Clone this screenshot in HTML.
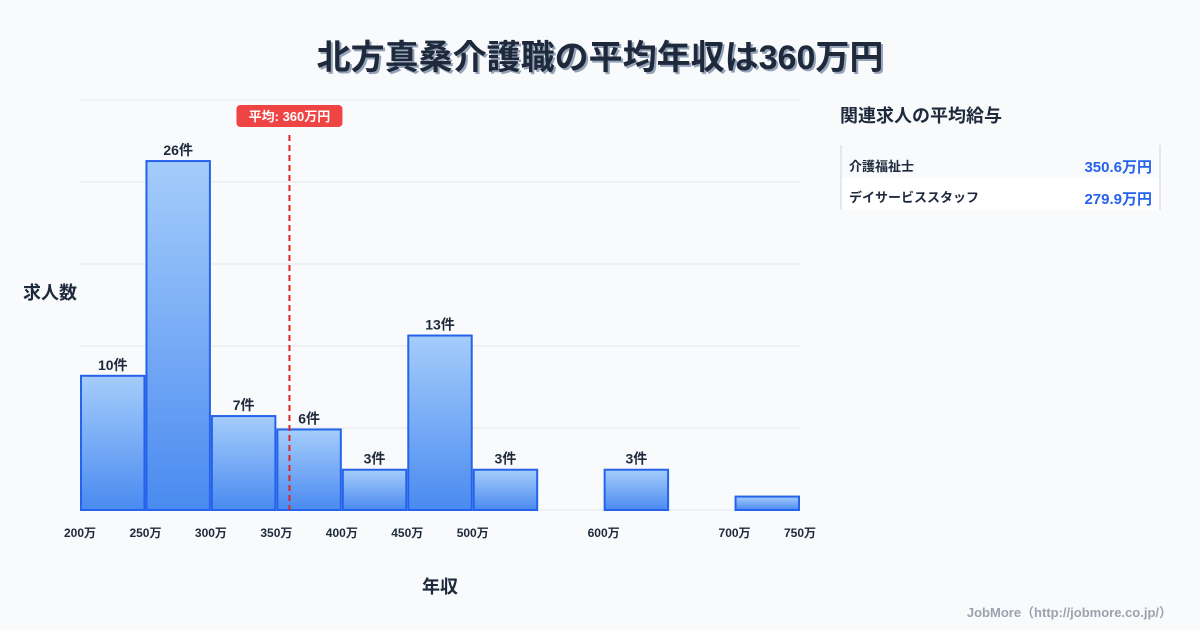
<!DOCTYPE html>
<html><head><meta charset="utf-8"><style>
body{margin:0;width:1200px;height:630px;background:#f8fafc;font-family:"Liberation Sans","Noto Sans CJK JP",sans-serif;overflow:hidden;position:relative}
.t{position:absolute;left:0;width:1200px;top:30px;text-align:center;font-size:34px;font-weight:bold;color:#1e293b;text-shadow:2px 2px 0 #94a3b8}
</style></head><body>
<div class="t">北方真桑介護職の平均年収は360万円</div>
<svg width="1200" height="630" style="position:absolute;left:0;top:0">
<defs><linearGradient id="g" x1="0" y1="0" x2="0" y2="1"><stop offset="0" stop-color="#a5cdfb"/><stop offset="1" stop-color="#4a8af0"/></linearGradient></defs>
<g id="grid"></g><g id="bars"></g><g id="xt"></g>
<text x="50" y="299" text-anchor="middle" font-size="18" font-weight="bold" fill="#1e293b">求人数</text>
<text x="440" y="593" text-anchor="middle" font-size="18" font-weight="bold" fill="#1e293b">年収</text>
<g id="mean"></g>
<text x="840" y="122" font-size="18" font-weight="bold" fill="#1e293b">関連求人の平均給与</text>
<line x1="841" y1="145" x2="841" y2="210" stroke="#cbd5e1"/><line x1="1160" y1="145" x2="1160" y2="210" stroke="#cbd5e1"/>
<rect x="842" y="178" width="317" height="32" fill="#fff"/>
<text x="849" y="171" font-size="13" font-weight="bold" fill="#1e293b">介護福祉士</text>
<text x="1152" y="172" text-anchor="end" font-size="15" font-weight="bold" fill="#2563eb">350.6万円</text>
<text x="849" y="202" font-size="13" font-weight="bold" fill="#1e293b">デイサービススタッフ</text>
<text x="1152" y="204" text-anchor="end" font-size="15" font-weight="bold" fill="#2563eb">279.9万円</text>
<text x="1172" y="617" text-anchor="end" font-size="13" font-weight="bold" fill="#9ca3af">JobMore（http://jobmore.co.jp/）</text>
</svg>
<script>
const binStarts=[200,250,300,350,400,450,500,550,600,650,700];
const counts=[10,26,7,6,3,13,3,0,3,0,1];
const showLabel=[true,true,true,true,true,true,true,false,true,false,false];
const tickVals=[200,250,300,350,400,450,500,600,700,750];
const meanVal=360;
const yMax=30.55;
const ns="http://www.w3.org/2000/svg";
const X=v=>80+(v-200)*(720/550);
const Y=v=>510-v*(410/yMax);
function mk(t,a,p){const e=document.createElementNS(ns,t);for(const k in a)e.setAttribute(k,a[k]);p.appendChild(e);return e;}
const grid=document.getElementById('grid');
for(let i=0;i<=5;i++){const y=510-i*82;const l=mk('line',{x1:80,x2:800,y1:y,y2:y,stroke:'#e2e8f0'},grid);

}
const bars=document.getElementById('bars');
binStarts.forEach((b,i)=>{if(!counts[i])return;const x0=X(b)+1,x1=X(b+50)-1;
const r=mk('rect',{x:x0,y:Y(counts[i]),width:x1-x0,height:510-Y(counts[i]),fill:'url(#g)',stroke:'#2563eb','stroke-width':2},bars);


if(showLabel[i]){const t=mk('text',{x:(x0+x1)/2,y:Y(counts[i])-6,'text-anchor':'middle','font-size':14,'font-weight':'bold',fill:'#1e293b'},bars);t.textContent=counts[i]+'件';

}});
const xt=document.getElementById('xt');
tickVals.forEach(v=>{const t=mk('text',{x:X(v),y:537,'text-anchor':'middle','font-size':12,'font-weight':'bold',fill:'#1e293b'},xt);t.textContent=v+'万';

});
const m=document.getElementById('mean');const mx=X(meanVal);
const ml=mk('line',{x1:mx,x2:mx,y1:135,y2:510,stroke:'#dc2626','stroke-width':2,'stroke-dasharray':'6,4'},m);


const mr=mk('rect',{x:mx-53,y:105,width:106,height:22,rx:4,fill:'#ef4444'},m);


const mt=mk('text',{x:mx,y:121,'text-anchor':'middle','font-size':13,'font-weight':'bold',fill:'#fff'},m);mt.textContent='平均: '+meanVal+'万円';


</script>
</body></html>
